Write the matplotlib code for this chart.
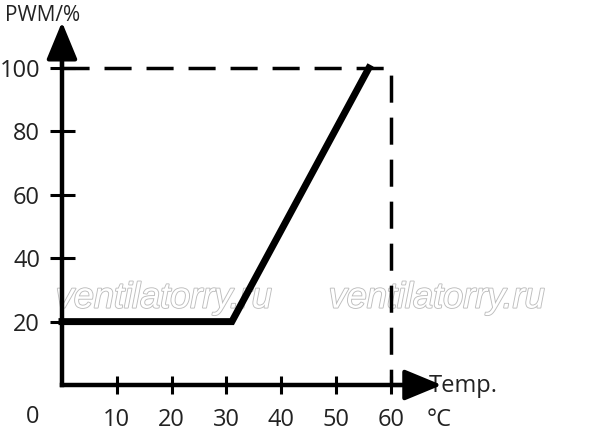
import matplotlib.pyplot as plt
from matplotlib import patheffects

# curve: PWM duty vs temperature
temp = [0, 31, 56]
pwm = [20, 20, 100]

# dashed limit lines
limit_x = [0, 60, 60]
limit_y = [100, 100, 0]

x_ticks = [10, 20, 30, 40, 50, 60]
y_ticks = [20, 40, 60, 80, 100]

plt.rcParams['font.family'] = ['Open Sans', 'DejaVu Sans']

fig = plt.figure(figsize=(6, 4.37), dpi=100)
ax = fig.add_axes([0, 0, 1, 1])
ax.set_xlim(-11.31, 98.18)
ax.set_ylim(-16.4, 121.45)

for side in ['top', 'right']:
    ax.spines[side].set_visible(False)
ax.spines['left'].set_position(('data', 0))
ax.spines['bottom'].set_position(('data', 0))
ax.spines['left'].set_bounds(0, 104)
ax.spines['bottom'].set_bounds(0, 64)
for side in ['left', 'bottom']:
    ax.spines[side].set_linewidth(3.2)
    ax.spines[side].set_capstyle('projecting')

ax.set_xticks(x_ticks)
ax.set_yticks(y_ticks)
ax.tick_params(axis='x', direction='inout', length=13, width=2.2, pad=10,
               labelsize=17, labelcolor='#222222')
ax.tick_params(axis='y', direction='inout', length=18, width=2.2, pad=6.8,
               labelsize=17, labelcolor='#222222')

# axis arrow heads
arrow = dict(arrowstyle='-|>,head_length=2.3,head_width=0.95', color='black',
             lw=3.0, mutation_scale=10, shrinkA=0, shrinkB=0)
ax.annotate('', xy=(0, 114.5), xytext=(0, 100), arrowprops=arrow, zorder=4)
ax.annotate('', xy=(69.3, 0), xytext=(60, 0), arrowprops=arrow, zorder=4)

ax.plot(limit_x, limit_y, color='black', lw=2.5, dashes=(7.8, 4.3),
        dash_capstyle='butt', zorder=2)
ax.plot(temp, pwm, color='black', lw=5, solid_joinstyle='miter', zorder=3)

ax.text(-5.3, -10, '0', ha='center', va='center', fontsize=17, color='#222222')
ax.text(-10.4, 116.7, 'PWM/%', ha='left', va='center', fontsize=15, color='#222222')
ax.text(67.0, -0.3, 'Temp.', ha='left', va='center', fontsize=17, color='#222222', zorder=1)
ax.text(66.6, -11, '°C', ha='left', va='center', fontsize=17, color='#222222')

for wx in [18.6, 68.4]:
    ax.text(wx, 27.4, 'ventilatorry.ru', ha='center', va='center', fontsize=26,
            family='Liberation Sans', style='italic', color='white', zorder=1,
            path_effects=[patheffects.withStroke(linewidth=1.3, foreground='#bdbdbd')])

fig.savefig('out.png', dpi=100)
